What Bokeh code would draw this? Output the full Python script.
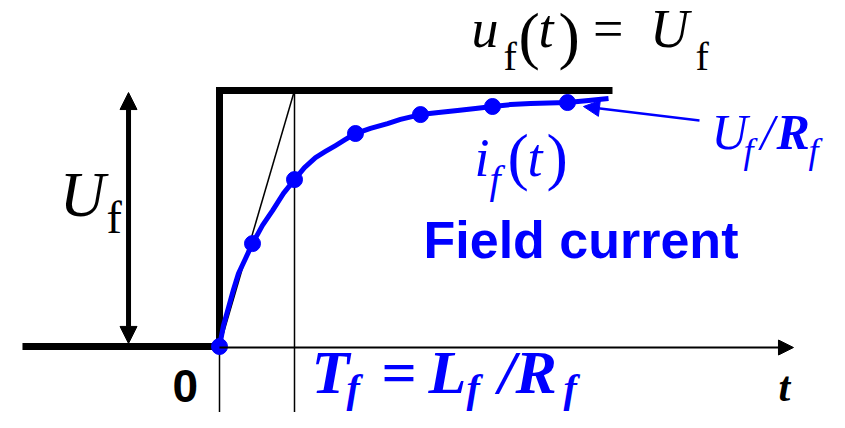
from bokeh.plotting import figure
from bokeh.models import Range1d, Arrow, NormalHead
from bokeh.core.properties import value
from bokeh.embed import file_html
from bokeh.resources import INLINE

BLUE = "#0000FF"

# field voltage step u_f(t) (in units of U_f), t in units of T_f
step_t = [-2.627, 0.0, 0.0, 5.24]
step_u = [0.0, 0.0, 1.0, 1.0]

# field current curve i_f(t) (in units of U_f/R_f)
curve_t = [0.0, 0.053, 0.12, 0.187, 0.253, 0.347, 0.44, 0.573, 0.707, 0.853, 1.0, 1.133, 1.28, 1.413,
           1.547, 1.68, 1.813, 2.013, 2.24, 2.413, 2.68, 2.92, 3.173, 3.413, 3.64, 3.88, 4.147, 4.387,
           4.64, 4.92, 5.187]
curve_i = [0.0, 0.082, 0.152, 0.223, 0.285, 0.344, 0.402, 0.473, 0.531, 0.598, 0.652, 0.699, 0.738, 0.762,
           0.785, 0.809, 0.832, 0.852, 0.871, 0.887, 0.906, 0.914, 0.922, 0.930, 0.9375, 0.945, 0.949, 0.951,
           0.953, 0.961, 0.969]

# marked points on the curve
pts_t = [0.0, 0.44, 1.0, 1.813, 2.68, 3.64, 4.64]
pts_i = [0.0, 0.402, 0.652, 0.832, 0.906, 0.9375, 0.953]

# time constant and axis extents
T_f = 1.0
axis_end = 7.653
guide_bottom = -0.3

Y_TOP, Y_BOT = 1.3516, -0.2578
PX_PER_UNIT = 412 / (Y_TOP - Y_BOT)

p = figure(width=829, height=412, x_range=Range1d(-2.92, 8.1333), y_range=Range1d(Y_BOT, Y_TOP),
           output_backend="svg", toolbar_location=None, min_border=0,
           x_axis_location=None, y_axis_location=None, outline_line_color=None,
           background_fill_color="white", border_fill_color="white")
p.grid.visible = False

# thin guide lines (t = 0 and t = T_f)
p.segment(x0=[0.0, T_f], y0=[1.0, 1.0], x1=[0.0, T_f], y1=[guide_bottom, guide_bottom],
          line_color="black", line_width=1.5)
# tangent at origin
p.segment(x0=[0.0], y0=[0.0], x1=[T_f], y1=[1.0], line_color="black", line_width=1.5)

# time axis arrow
p.add_layout(Arrow(x_start=0.0, y_start=-0.004, x_end=axis_end, y_end=-0.004, line_width=2, line_color="black",
                   end=NormalHead(size=15, fill_color="black", line_color="black")))

# thick step
p.line(step_t, step_u, line_color="black", line_width=7, line_join="miter")

# U_f double arrow
p.add_layout(Arrow(x_start=-1.213, y_start=0.012, x_end=-1.213, y_end=0.992, line_width=5, line_color="black",
                   start=NormalHead(size=17, fill_color="black", line_color="black"),
                   end=NormalHead(size=17, fill_color="black", line_color="black")))

# field current
p.line(curve_t, curve_i, line_color=BLUE, line_width=5, line_join="round")
p.scatter(pts_t, pts_i, size=16, color=BLUE)

# pointer to steady state
p.add_layout(Arrow(x_start=6.4, y_start=0.883, x_end=4.853, y_end=0.9375, line_width=2.5, line_color=BLUE,
                   end=NormalHead(size=16, fill_color=BLUE, line_color=BLUE)))


def label(x, y, txt, size, color="black", font="Liberation Serif", style="normal"):
    # y is the wanted baseline; lift to compensate the renderer's baseline placement
    y_adj = y + 0.36 * size / PX_PER_UNIT
    p.text(x=[x], y=[y_adj], text=[txt], text_font=value(font), text_font_size=value(f"{size}px"),
           text_font_style=style, text_color=color, text_align="left", text_baseline="alphabetic")


# u_f(t) = U_f
label(3.36, 1.164, "u", 54, style="italic")
label(3.787, 1.078, "f", 40)
label(3.987, 1.125, "(", 64)
label(4.253, 1.164, "t", 54, style="italic")
label(4.52, 1.125, ")", 64)
label(4.98, 1.164, "=", 54)
label(5.74, 1.164, "U", 54, style="italic")
label(6.347, 1.078, "f", 40)

# U_f (left)
label(-2.13, 0.504, "U", 63, style="italic")
label(-1.507, 0.441, "f", 46)

# i_f(t)
label(3.4, 0.66, "i", 54, BLUE, style="italic")
label(3.6, 0.598, "f", 40, BLUE, style="italic")
label(3.84, 0.652, "(", 64, BLUE)
label(4.107, 0.66, "t", 54, BLUE, style="italic")
label(4.36, 0.652, ")", 64, BLUE)

# Field current
label(2.72, 0.344, "Field current", 52, BLUE, font="Liberation Sans", style="bold")

# U_f/R_f
label(6.56, 0.766, "U", 50, BLUE, style="italic")
label(6.986, 0.715, "f", 36, BLUE, style="italic")
label(7.213, 0.766, "/", 50, BLUE, style="italic")
label(7.427, 0.766, "R", 50, BLUE, style="bold italic")
label(7.853, 0.715, "f", 36, BLUE, style="italic")

# T_f = L_f / R_f
label(1.227, -0.1875, "T", 62, BLUE, style="bold italic")
label(1.693, -0.219, "f", 40, BLUE, style="bold italic")
label(2.16, -0.1875, "=", 62, BLUE, style="bold")
label(2.787, -0.1875, "L", 62, BLUE, style="bold italic")
label(3.293, -0.219, "f", 40, BLUE, style="bold italic")
label(3.72, -0.1875, "/", 62, BLUE, style="bold italic")
label(3.947, -0.1875, "R", 62, BLUE, style="bold italic")
label(4.587, -0.219, "f", 40, BLUE, style="bold italic")

# 0 and t
label(-0.627, -0.2188, "0", 46, font="Liberation Sans", style="bold")
label(7.453, -0.2188, "t", 42, style="bold italic")

open("out.html", "w").write(file_html(p, INLINE))
